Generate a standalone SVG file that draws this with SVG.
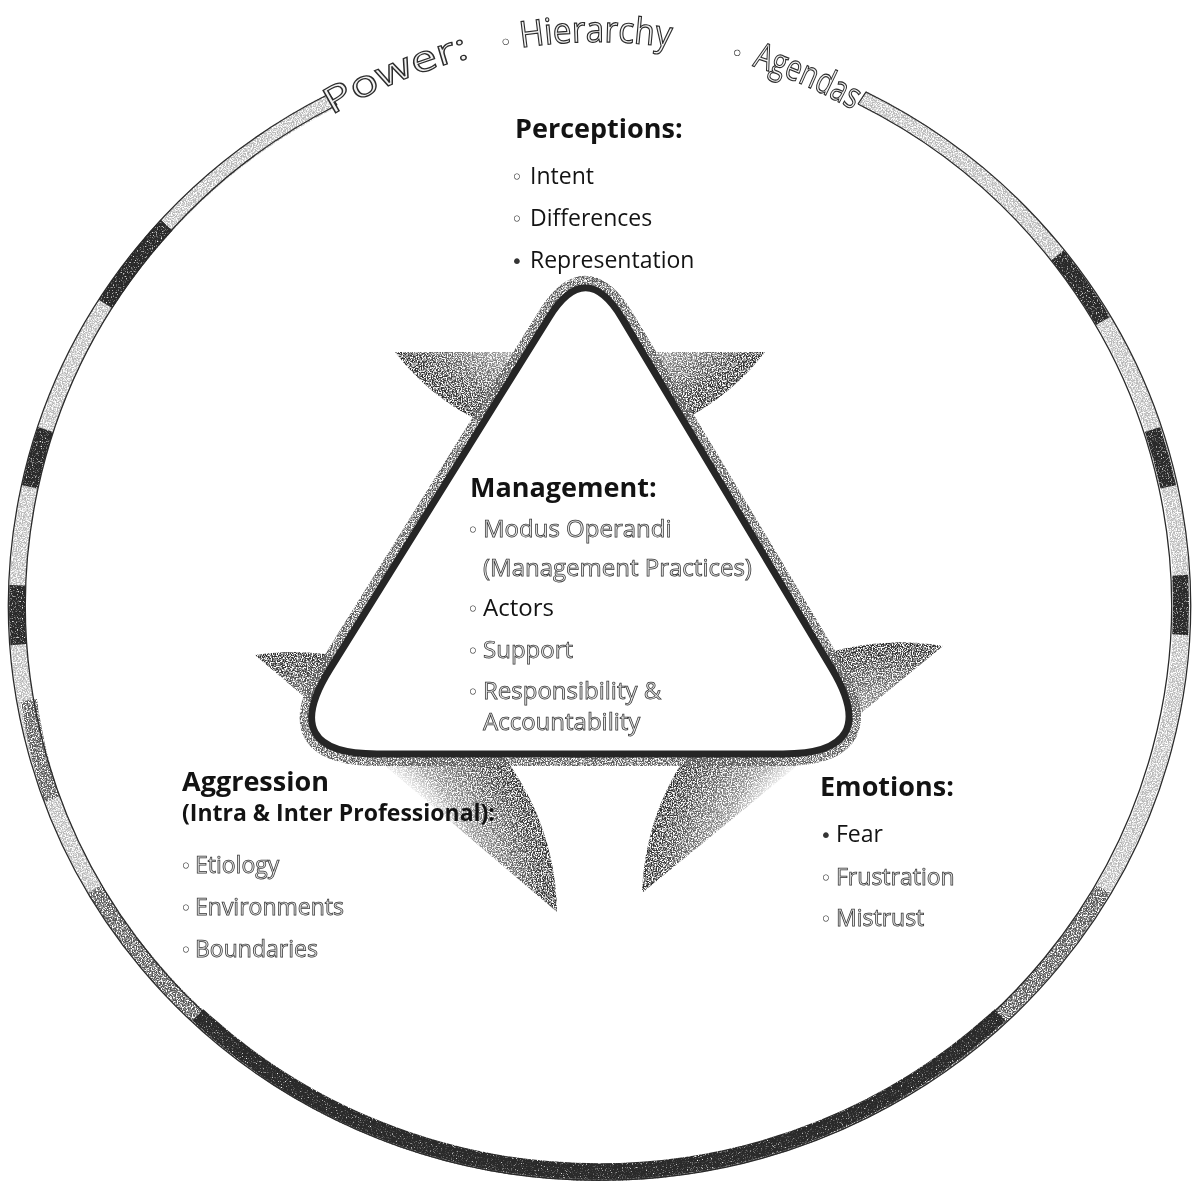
<svg xmlns="http://www.w3.org/2000/svg" width="1194" height="1183" viewBox="0 0 1194 1183">
<defs>
<filter id="grain" filterUnits="userSpaceOnUse" x="0" y="0" width="1194" height="1183" color-interpolation-filters="sRGB">
<feTurbulence type="fractalNoise" baseFrequency="0.8" numOctaves="2" seed="4" result="n"/>
<feColorMatrix in="n" type="matrix" values="0 0 0 0 0  0 0 0 0 0  0 0 0 0 0  0 0 0 -4 2.6" result="m"/>
<feComposite in="SourceGraphic" in2="m" operator="in"/>
</filter>
<filter id="grainD" filterUnits="userSpaceOnUse" x="0" y="0" width="1194" height="1183" color-interpolation-filters="sRGB">
<feTurbulence type="fractalNoise" baseFrequency="0.8" numOctaves="2" seed="9" result="n"/>
<feColorMatrix in="n" type="matrix" values="0 0 0 0 0  0 0 0 0 0  0 0 0 0 0  0 0 0 -4 3.2" result="m"/>
<feComposite in="SourceGraphic" in2="m" operator="in"/>
</filter>
<radialGradient id="gTop" gradientUnits="userSpaceOnUse" cx="580" cy="212" r="232">
<stop offset="0.58" stop-color="#999" stop-opacity="0"/>
<stop offset="0.7" stop-color="#777" stop-opacity="0.8"/>
<stop offset="0.92" stop-color="#3c3c3c"/>
<stop offset="1" stop-color="#2a2a2a"/>
</radialGradient>
<radialGradient id="gR" gradientUnits="userSpaceOnUse" cx="900" cy="900" r="258">
<stop offset="0.63" stop-color="#999" stop-opacity="0"/>
<stop offset="0.74" stop-color="#777" stop-opacity="0.8"/>
<stop offset="0.93" stop-color="#3c3c3c"/>
<stop offset="1" stop-color="#2a2a2a"/>
</radialGradient>
<radialGradient id="gL" gradientUnits="userSpaceOnUse" cx="295" cy="915" r="263">
<stop offset="0.63" stop-color="#999" stop-opacity="0"/>
<stop offset="0.74" stop-color="#777" stop-opacity="0.8"/>
<stop offset="0.93" stop-color="#3c3c3c"/>
<stop offset="1" stop-color="#2a2a2a"/>
</radialGradient>
<path id="titleArc" d="M150.1,300 A516,516 0 0 1 1043.9,300"/>
<style>
.hd{font-family:"Open Sans","Liberation Sans",sans-serif;font-weight:700;font-size:27px;fill:#111}
.it{font-family:"Open Sans","Liberation Sans",sans-serif;font-size:23px;fill:#111}
.m24{font-size:24px}
.ho{fill:#e4e4e4;stroke:#333;stroke-width:0.75px}
.b{font-family:"DejaVu Sans",sans-serif;font-size:20px;fill:#333;stroke:none}
.ttl{font-family:"Open Sans","Liberation Sans",sans-serif;font-size:36px;fill:#f2f2f2;stroke:#2a2a2a;stroke-width:1.2px}
.tb{font-family:"DejaVu Sans",sans-serif;font-size:22px;fill:#333}
.band{fill:none;stroke-width:16}
.edge{fill:none;stroke:#2a2a2a;stroke-width:1.3}
</style>
</defs>
<rect width="1194" height="1183" fill="#fff"/>

<g id="ring">
<path class="band" stroke="#b8b8b8" filter="url(#grain)" d="M333,100 A582,568 0 1 0 862,98"/>
<g class="band" stroke="#555" filter="url(#grain)">
<path d="M1103,889 A582,568 0 0 1 95,889"/>
<path d="M52.1,799.3 A582,568 0 0 1 29,700"/>
</g>
<g class="band" stroke="#2a2a2a" filter="url(#grainD)">
<path d="M1000,1015 A582,568 0 0 1 198,1015"/>
<path d="M29.7,486.9 A582,568 0 0 1 45.5,429.5"/>
<path d="M18.4,644.6 A582,568 0 0 1 17.4,585.2"/>
<path d="M105.5,304 A582,568 0 0 1 166.5,225"/>
<path d="M1152.5,429.5 A582,568 0 0 1 1168.3,486.9"/>
<path d="M1180.2,575.3 A582,568 0 0 1 1180.2,634.7"/>
<path d="M1057.6,255.3 A582,568 0 0 1 1103,321"/>
</g>
<path class="edge" d="M329,94 A591,575 0 1 0 866,92"/>
<path class="edge" d="M337,105 A573,562 0 1 0 858,104"/>
<path class="edge" d="M329,94 L337,105 M866,92 L858,104"/>
</g>

<g id="title" opacity="0.99">
<text class="ttl"><textPath href="#titleArc" startOffset="262" textLength="150" lengthAdjust="spacingAndGlyphs">Power:</textPath></text>
<text class="tb" text-anchor="middle"><textPath href="#titleArc" startOffset="450">◦</textPath></text>
<text class="ttl"><textPath href="#titleArc" startOffset="464" textLength="150" lengthAdjust="spacingAndGlyphs">Hierarchy</textPath></text>
<text class="tb" text-anchor="middle"><textPath href="#titleArc" startOffset="680">◦</textPath></text>
<text class="ttl"><textPath href="#titleArc" startOffset="698" textLength="110" lengthAdjust="spacingAndGlyphs">Agendas</textPath></text>
</g>

<g id="decor" filter="url(#grain)">
<path fill="url(#gTop)" d="M395,352 A232,232 0 0 0 765,352 Z"/>
<path fill="url(#gR)" d="M943,646 A258,258 0 0 0 642,893 Z"/>
<path fill="url(#gL)" d="M255,655 A263,263 0 0 1 557,912 Z"/>
</g>

<g id="connectors"/>

<g id="management">
<path fill="none" stroke="#5a5a5a" stroke-width="24" filter="url(#grain)" d="M549,317.4 Q586,258 622,318.1 L831.6,668.2 Q883,754 783,754 L377,754 Q277,754 329.9,669.1 Z"/>
<path fill="#fff" stroke="#262626" stroke-width="7" d="M549,317.4 Q586,258 622,318.1 L831.6,668.2 Q883,754 783,754 L377,754 Q277,754 329.9,669.1 Z"/>
<g opacity="0.99">
<text class="hd" x="470" y="497">Management:</text>
<text class="it m24" y="537"><tspan class="b" x="467">◦</tspan><tspan class="ho" x="483">Modus Operandi</tspan></text>
<text class="it m24 ho" x="483" y="576">(Management Practices)</text>
<text class="it m24" y="616"><tspan class="b" x="467">◦</tspan><tspan x="483">Actors</tspan></text>
<text class="it m24" y="658"><tspan class="b" x="467">◦</tspan><tspan class="ho" x="483">Support</tspan></text>
<text class="it m24" y="699"><tspan class="b" x="467">◦</tspan><tspan class="ho" x="483">Responsibility &amp;</tspan></text>
<text class="it m24 ho" x="483" y="730">Accountability</text>
</g>
</g>

<g id="perceptions" opacity="0.99">
<text class="hd" x="515" y="138">Perceptions:</text>
<text class="it" y="184"><tspan class="b" x="511">◦</tspan><tspan x="530">Intent</tspan></text>
<text class="it" y="226"><tspan class="b" x="511">◦</tspan><tspan x="530">Differences</tspan></text>
<text class="it" y="268"><tspan class="b" x="511">•</tspan><tspan x="530">Representation</tspan></text>
</g>

<g id="aggression" opacity="0.99">
<text class="hd" x="182" y="791">Aggression</text>
<text class="hd" x="182" y="821" style="font-size:23px">(Intra &amp; Inter Professional):</text>
<text class="it" y="873"><tspan class="b" x="180">◦</tspan><tspan class="ho" x="195">Etiology</tspan></text>
<text class="it" y="915"><tspan class="b" x="180">◦</tspan><tspan class="ho" x="195">Environments</tspan></text>
<text class="it" y="957"><tspan class="b" x="180">◦</tspan><tspan class="ho" x="195">Boundaries</tspan></text>
</g>

<g id="emotions" opacity="0.99">
<text class="hd" x="820" y="796">Emotions:</text>
<text class="it" y="842"><tspan class="b" x="820">•</tspan><tspan x="836">Fear</tspan></text>
<text class="it" y="885"><tspan class="b" x="820">◦</tspan><tspan class="ho" x="836">Frustration</tspan></text>
<text class="it" y="926"><tspan class="b" x="820">◦</tspan><tspan class="ho" x="836">Mistrust</tspan></text>
</g>
</svg>
